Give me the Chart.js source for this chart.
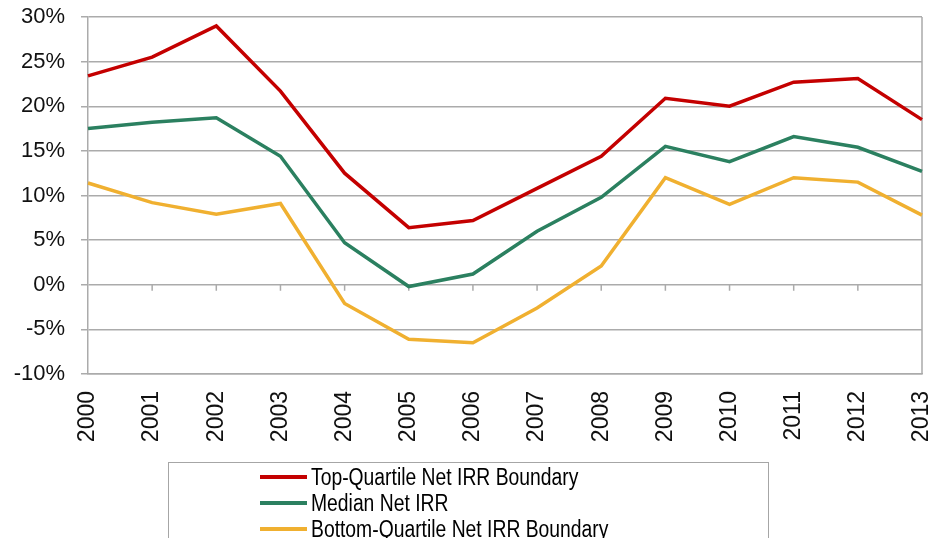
<!DOCTYPE html>
<html>
<head>
<meta charset="utf-8">
<script src="https://cdn.jsdelivr.net/npm/chart.js@4.4.0/dist/chart.umd.min.js"></script>
<style>
  html, body { margin: 0; padding: 0; background: #fff; overflow: hidden; }
  #wrap { position: relative; width: 928px; height: 538px; }
  #legend {
    position: absolute; left: 168px; top: 462px; width: 601px; height: 90px;
    border: 1.5px solid #a6a6a6; box-sizing: border-box;
    font-family: "Liberation Sans", Arial, sans-serif; font-size: 23px; color: #000;
  }
  #legend .row { position: absolute; left: 91px; height: 26px; display: flex; align-items: center; white-space: nowrap; }
  #legend .swatch { width: 47px; height: 4px; margin-right: 4px; }
  #legend .txt { display: inline-block; transform: scaleX(0.84); transform-origin: left center; }
</style>
</head>
<body>
<div id="wrap">
  <canvas id="irrChart" width="928" height="538"></canvas>
  <div id="legend"></div>
</div>
<script>
// data
const years = ['2000', '2001', '2002', '2003', '2004', '2005', '2006', '2007', '2008', '2009', '2010', '2011', '2012', '2013'];
const topQuartile = [23.4, 25.5, 29.0, 21.7, 12.5, 6.4, 7.2, 10.8, 14.4, 20.9, 20.0, 22.7, 23.1, 18.5];
const medianIrr = [17.5, 18.2, 18.7, 14.4, 4.7, -0.2, 1.2, 6.0, 9.8, 15.5, 13.8, 16.6, 15.4, 12.7];
const bottomQuartile = [11.4, 9.2, 7.9, 9.1, -2.1, -6.1, -6.5, -2.6, 2.1, 12.0, 9.0, 12.0, 11.5, 7.8];
const seriesLabels = ['Top-Quartile Net IRR Boundary', 'Median Net IRR', 'Bottom-Quartile Net IRR Boundary'];
const seriesColors = ['#c40000', '#2b8060', '#f0b030'];
const yTicks = [-10, -5, 0, 5, 10, 15, 20, 25, 30];

const gridGray = '#ababab';

// plot border on the right plus the small category ticks on the 0% line
const axisExtras = {
    id: 'axisExtras',
    beforeDatasetsDraw(chart) {
        const { ctx, chartArea, scales } = chart;
        const y0 = scales.y.getPixelForValue(0);
        ctx.save();
        ctx.strokeStyle = gridGray;
        ctx.lineWidth = 1.5;
        ctx.beginPath();
        ctx.moveTo(chartArea.right, chartArea.top);
        ctx.lineTo(chartArea.right, chartArea.bottom);
        for (let i = 1; i < years.length; i++) {
            const x = scales.x.getPixelForValue(i);
            ctx.moveTo(x, y0);
            ctx.lineTo(x, y0 + 6);
        }
        ctx.stroke();
        ctx.restore();
    }
};

const ctx = document.getElementById('irrChart').getContext('2d');
const irrChart = new Chart(ctx, {
    type: 'line',
    data: {
        labels: years,
        datasets: [topQuartile, medianIrr, bottomQuartile].map((vals, i) => ({
            label: seriesLabels[i],
            data: vals,
            borderColor: seriesColors[i],
            backgroundColor: seriesColors[i],
            borderWidth: 3.5,
            pointRadius: 0,
            tension: 0,
            fill: false
        }))
    },
    options: {
        responsive: false,
        animation: false,
        layout: { padding: { left: 0, top: 17, right: 6, bottom: 94 } },
        plugins: {
            legend: { display: false },
            tooltip: { enabled: false }
        },
        scales: {
            x: {
                offset: false,
                grid: { display: false, drawTicks: false },
                border: { display: true, color: gridGray, width: 1.5 },
                ticks: {
                    minRotation: 90, maxRotation: 90, padding: 17, autoSkip: false,
                    color: '#111',
                    font: { family: '"Liberation Sans", Arial, sans-serif', size: 23 }
                },
                afterFit(scale) {
                    scale.height = 70;
                    scale.paddingLeft = 0;
                    scale.paddingRight = 0;
                }
            },
            y: {
                min: -10,
                max: 30,
                afterBuildTicks(scale) {
                    scale.ticks = yTicks.map(v => ({ value: v }));
                },
                grid: { color: gridGray, lineWidth: 1.5, tickLength: 7, drawTicks: true },
                border: { display: true, color: gridGray, width: 1.5 },
                ticks: {
                    padding: 16,
                    color: '#111',
                    font: { family: '"Liberation Sans", Arial, sans-serif', size: 22 },
                    callback: v => v + '%'
                },
                afterFit(scale) {
                    scale.width = 88;
                    scale.paddingTop = 0;
                    scale.paddingBottom = 0;
                }
            }
        }
    },
    plugins: [axisExtras]
});

// legend box under the chart, one entry per row
const legend = document.getElementById('legend');
irrChart.data.datasets.forEach((ds, i) => {
    const row = document.createElement('div');
    row.className = 'row';
    row.style.top = (1 + i * 26) + 'px';
    row.innerHTML = '<span class="swatch" style="background:' + ds.borderColor + '"></span><span class="txt">' + ds.label + '</span>';
    legend.appendChild(row);
});
</script>
</body>
</html>
